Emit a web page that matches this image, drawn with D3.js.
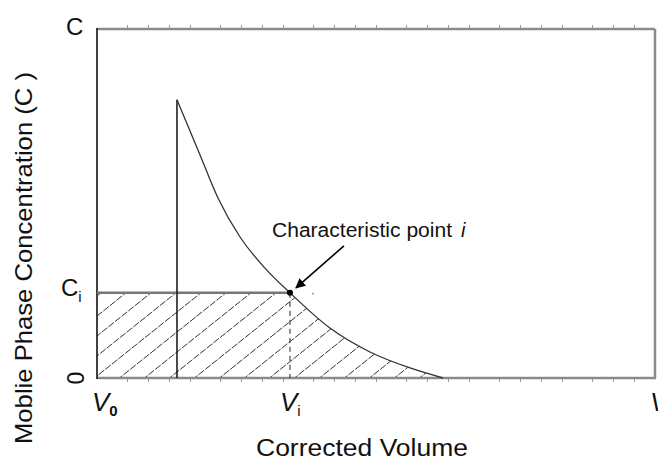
<!DOCTYPE html>
<html>
<head>
<meta charset="utf-8">
<script src="https://cdn.jsdelivr.net/npm/d3@7"></script>
<style>
  html, body { margin: 0; padding: 0; background: #fff; }
  svg { display: block; font-family: "Liberation Sans", Arial, sans-serif; }
</style>
</head>
<body>
<svg id="chart" width="658" height="462"></svg>
<script>
// Elution profile (corrected volume vs. mobile phase concentration)
const volume        = [0.86, 1.108, 1.301, 1.538, 1.806, 2.075, 2.505, 2.935, 3.366, 3.72];
const concentration = [0.797, 0.639, 0.516, 0.404, 0.315, 0.244, 0.143, 0.0745, 0.0287, 0];

// Characteristic point i and injection front
const V0 = 0;
const Vinj = 0.86;
const Vi = 2.075;
const Ci = 0.244;

// Axis labels
const xTickValues = [0, Vi, 6];
const xTickMain   = ["V", "V", "V"];
const xTickSub    = ["0", "i", ""];
const yTickValues = [0, Ci, 1];
const yTickMain   = ["0", "C", "C"];
const yTickSub    = ["", "i", ""];

const svg = d3.select("#chart");
const x = d3.scaleLinear().domain([0, 6]).range([97, 655]);
const y = d3.scaleLinear().domain([0, 1]).range([378, 29]);

const pts = volume.map((v, k) => [v, concentration[k]]);
const curve = d3.curveMonotoneX;

// clip: region under the profile (plus the band before the front) and below Ci
const defs = svg.append("defs");
const cpA = defs.append("clipPath").attr("id", "underCurve");
cpA.append("rect")
  .attr("x", x(V0)).attr("y", y(1))
  .attr("width", x(Vinj) - x(V0)).attr("height", y(0) - y(1));
cpA.append("path")
  .attr("d", d3.area().x(d => x(d[0])).y0(y(0)).y1(d => y(d[1])).curve(curve)(pts));
const cpB = defs.append("clipPath").attr("id", "belowCi");
cpB.append("rect")
  .attr("x", x(V0)).attr("y", y(Ci))
  .attr("width", x(6) - x(V0)).attr("height", y(0) - y(Ci));

// hatching
const hatch = svg.append("g").attr("clip-path", "url(#belowCi)")
  .append("g").attr("clip-path", "url(#underCurve)");
const slope = 0.8, step = 25, base = y(0);
for (let sx = x(V0) + 20 - step * 8; sx < x(4); sx += step) {
  hatch.append("line")
    .attr("x1", sx).attr("y1", base + 2)
    .attr("x2", sx + 200).attr("y2", base + 2 - 200 * slope)
    .attr("stroke", "#333").attr("stroke-width", 1)
    .attr("stroke-dasharray", "7,1.5");
}

// frame
const frame = svg.append("g");
frame.append("line").attr("x1", x(0)).attr("x2", x(6)).attr("y1", y(1)).attr("y2", y(1))
  .attr("stroke", "#8a8a8a").attr("stroke-width", 2.5);
frame.append("line").attr("x1", x(0)).attr("x2", x(6) + 1).attr("y1", y(0)).attr("y2", y(0))
  .attr("stroke", "#8a8a8a").attr("stroke-width", 2.5);
frame.append("line").attr("x1", x(6)).attr("x2", x(6)).attr("y1", y(1)).attr("y2", y(0))
  .attr("stroke", "#8a8a8a").attr("stroke-width", 2.5);

// minor ticks along top and bottom edges
const minorTicks = d3.range(0, 6).flatMap(k => [k + 0.323, k + 0.548, k + 0.774, k + 1]).filter(t => t < 6);
const topAxis = d3.axisTop(x).tickValues(minorTicks).tickSize(3).tickFormat("");
const botAxis = d3.axisBottom(x).tickValues(minorTicks).tickSize(3).tickFormat("");
svg.append("g").attr("transform", `translate(0,${y(1) - 1})`).call(topAxis)
  .call(g => g.select(".domain").remove())
  .call(g => g.selectAll("line").attr("stroke", "#999"));
svg.append("g").attr("transform", `translate(0,${y(0) + 1})`).call(botAxis)
  .call(g => g.select(".domain").remove())
  .call(g => g.selectAll("line").attr("stroke", "#999"));

// left axis
frame.append("line").attr("x1", x(0)).attr("x2", x(0)).attr("y1", y(1) - 1).attr("y2", y(0) + 1)
  .attr("stroke", "#111").attr("stroke-width", 1.6);

// Ci level
svg.append("line")
  .attr("x1", x(V0)).attr("x2", x(Vi)).attr("y1", y(Ci)).attr("y2", y(Ci))
  .attr("stroke", "#777").attr("stroke-width", 2.5);

// front at injection
svg.append("line")
  .attr("x1", x(Vinj)).attr("x2", x(Vinj)).attr("y1", y(concentration[0])).attr("y2", y(0))
  .attr("stroke", "#111").attr("stroke-width", 1.5);

// dashed drop at Vi
svg.append("line")
  .attr("x1", x(Vi)).attr("x2", x(Vi)).attr("y1", y(Ci)).attr("y2", y(0))
  .attr("stroke", "#222").attr("stroke-width", 1).attr("stroke-dasharray", "5,4");

// profile
svg.append("path")
  .attr("d", d3.line().x(d => x(d[0])).y(d => y(d[1])).curve(curve)(pts))
  .attr("fill", "none").attr("stroke", "#333").attr("stroke-width", 1.3);

// characteristic point
svg.append("circle").attr("cx", x(Vi)).attr("cy", y(Ci)).attr("r", 3).attr("fill", "#000");
svg.append("circle").attr("cx", x(Vi) + 23).attr("cy", y(Ci) + 1).attr("r", 1).attr("fill", "#999");

// annotation arrow
defs.append("marker").attr("id", "head").attr("viewBox", "0 0 10 10")
  .attr("refX", 9).attr("refY", 5).attr("markerWidth", 10).attr("markerHeight", 10)
  .attr("markerUnits", "userSpaceOnUse").attr("orient", "auto")
  .append("path").attr("d", "M0,0 L10,5 L0,10 Z").attr("fill", "#000");
svg.append("line")
  .attr("x1", x(Vi) + 54).attr("y1", y(Ci) - 47)
  .attr("x2", x(Vi) + 6).attr("y2", y(Ci) - 5)
  .attr("stroke", "#000").attr("stroke-width", 1.6).attr("marker-end", "url(#head)");

const ann = svg.append("text").attr("x", 272).attr("y", 237)
  .attr("font-size", 20).attr("fill", "#111");
ann.append("tspan").text("Characteristic point").attr("textLength", 180).attr("lengthAdjust", "spacingAndGlyphs");
ann.append("tspan").attr("x", 461).attr("font-style", "italic").text("i");

// x tick labels
const xOff = [-5, -10, -5];
xTickValues.forEach((v, k) => {
  const t = svg.append("text").attr("x", x(v) + xOff[k]).attr("y", 411)
    .attr("font-size", 26).attr("fill", "#111");
  t.append("tspan").attr("font-style", "italic").text(xTickMain[k]);
  if (xTickSub[k]) t.append("tspan").attr("font-size", 15).attr("dy", 5)
    .attr("font-weight", xTickSub[k] === "0" ? "bold" : "normal").text(xTickSub[k]);
});

// y tick labels
yTickValues.forEach((v, k) => {
  if (yTickMain[k] === "0") {
    svg.append("text").attr("transform", `translate(84,${y(v)}) rotate(-90)`)
      .attr("text-anchor", "middle").attr("font-size", 23).attr("fill", "#111").text("0");
  } else {
    const t = svg.append("text").attr("x", k === 2 ? 66 : 61).attr("y", y(v) + (k === 2 ? 6 : 3))
      .attr("font-size", 24).attr("fill", "#111");
    t.append("tspan").text(yTickMain[k]);
    if (yTickSub[k]) t.append("tspan").attr("font-size", 15).attr("dy", 6).text(yTickSub[k]);
  }
});

// axis titles
svg.append("text").attr("x", 256).attr("y", 456)
  .attr("font-size", 23).attr("fill", "#111")
  .attr("textLength", 212).attr("lengthAdjust", "spacingAndGlyphs")
  .text("Corrected Volume");
svg.append("text").attr("transform", "translate(32,258) rotate(-90)")
  .attr("text-anchor", "middle").attr("font-size", 24).attr("fill", "#111")
  .attr("textLength", 372).attr("lengthAdjust", "spacingAndGlyphs")
  .text("Moblie Phase Concentration (C )");
</script>
</body>
</html>
